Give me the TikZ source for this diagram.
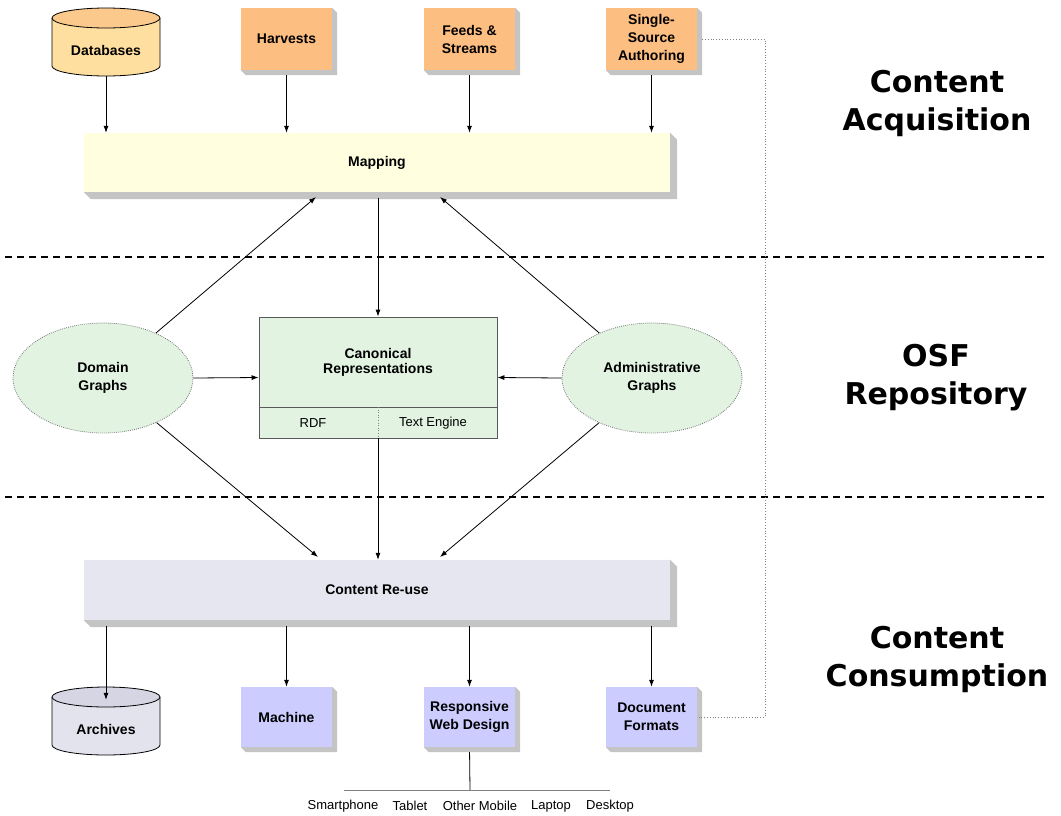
\documentclass[tikz,border=0pt]{standalone}
\usepackage{fontspec}
\setmainfont{Liberation Sans}
\newfontfamily\headfont{DejaVu Sans}
\usetikzlibrary{shapes.geometric,arrows.meta,backgrounds,calc}
\definecolor{orangebox}{HTML}{FDBE82}
\definecolor{dbbody}{HTML}{FFDFA0}
\definecolor{dbtop}{HTML}{FCC98D}
\definecolor{mapfill}{HTML}{FFFFE0}
\definecolor{greenfill}{HTML}{E2F3E2}
\definecolor{reusefill}{HTML}{E6E6F0}
\definecolor{purplebox}{HTML}{CCCCFF}
\definecolor{arcbody}{HTML}{E3E3EE}
\definecolor{arctop}{HTML}{D5D5E4}
\definecolor{shadowc}{HTML}{C4C4C4}
\newcommand\extrude[2]{\fill[shadowc] (#1.south west) -- ++(#2,#2) -| ($(#1.north east)+(#2,#2)$) -- (#1.north east) -- cycle;}
\begin{document}
\begin{tikzpicture}[x=1pt,y=-1pt,
  box/.style={rectangle, inner sep=2pt, align=center, font=\bfseries\fontsize{14}{18}\selectfont, text=black},
  topbox/.style={box, fill=orangebox, minimum width=91pt, minimum height=62pt},
  botbox/.style={box, fill=purplebox, minimum width=91pt, minimum height=60pt},
  widebox/.style={box, minimum width=586pt, minimum height=59pt},
  graphnode/.style={box, ellipse, draw=gray!90!black, line width=0.8pt, dash pattern=on 0.8pt off 1.2pt, fill=greenfill, minimum width=180pt, minimum height=110pt},
  cylarea/.style={rectangle, minimum width=108pt, minimum height=68pt, inner sep=0pt},
  txt/.style={box},
  small/.style={font=\fontsize{13}{15}\selectfont, inner sep=1pt},
  arr/.style={-{Latex[length=7pt,width=5pt]}, line width=0.8pt},
  plainline/.style={line width=0.8pt},
  sep/.style={line width=2pt, dash pattern=on 7pt off 5pt},
  dotconn/.style={line width=0.8pt, gray, dotted},
  head/.style={font=\headfont\bfseries\fontsize{30}{38}\selectfont, align=center}
]
\useasboundingbox (0,0) rectangle (1061,815);

% separators
\draw[sep] (5,257) -- (1045,257);
\draw[sep] (5,497) -- (1045,497);

% ---- top row
\node[cylarea] (db) at (106,42) {};
\fill[dbbody] (52,18) -- (52,66) arc[start angle=180,end angle=360,x radius=54pt,y radius=10pt] -- (160,18) -- cycle;
\draw[plainline] (52,18) -- (52,66) arc[start angle=180,end angle=360,x radius=54pt,y radius=10pt] -- (160,18);
\draw[plainline, fill=dbtop] (106,18) ellipse[x radius=54pt, y radius=10pt];
\node[txt] (dbt) at (106,50) {Databases};

\node[topbox] (harv) at (286.5,39) {Harvests};
\node[topbox] (feeds) at (469.5,39) {Feeds \&\\Streams};
\node[topbox] (ssa) at (651.5,39) {Single-\\Source\\Authoring};

\node[widebox, fill=mapfill] (map) at (377,162.5) {Mapping};

% ---- middle
\node[rectangle, draw=gray!70!black, line width=0.8pt, fill=greenfill, minimum width=238pt, minimum height=121pt] (canon) at (378,377.5) {};
\node[txt, font=\bfseries\fontsize{14}{15}\selectfont] (canont) at (378,362) {Canonical\\Representations};
\draw[gray!70!black, line width=0.8pt] (259,407) -- (497,407);
\draw[gray, dotted, line width=0.6pt] (378,407) -- (378,438);
\node[small] (rdf) at (313,423) {RDF};
\node[small] (teng) at (433,423) {Text Engine};

\node[graphnode] (dom) at (103,378) {Domain\\Graphs};
\node[graphnode] (adm) at (652,378) {Administrative\\Graphs};

% ---- bottom
\node[widebox, fill=reusefill, minimum height=60pt] (reuse) at (377,590) {Content Re-use};

\node[cylarea] (arcn) at (106,721) {};
\fill[arcbody] (52,697) -- (52,745) arc[start angle=180,end angle=360,x radius=54pt,y radius=10pt] -- (160,697) -- cycle;
\draw[plainline] (52,697) -- (52,745) arc[start angle=180,end angle=360,x radius=54pt,y radius=10pt] -- (160,697);
\draw[plainline, fill=arctop] (106,697) ellipse[x radius=54pt, y radius=10pt];
\node[txt] (arct) at (106,729) {Archives};

\node[botbox] (mach) at (286.5,717) {Machine};
\node[botbox] (rwd) at (469.5,717) {Responsive\\Web Design};
\node[botbox] (docf) at (651.5,717) {Document\\Formats};

\node[small] (d1) at (343,806) {Smartphone};
\node[small] (d2) at (410,806) {Tablet};
\node[small] (d3) at (480,806) {Other Mobile};
\node[small] (d4) at (551,806) {Laptop};
\node[small] (d5) at (610,806) {Desktop};
\coordinate (devL) at (344,790);
\coordinate (devR) at (610,790);
\coordinate (devM) at (470,790);

% headings
\node[head] (h1) at (937,103) {Content\\Acquisition};
\node[head] (h2) at (936,378) {OSF\\Repository};
\node[head] (h3) at (937,659) {Content\\Consumption};

% shadows
\begin{scope}[on background layer]
\extrude{harv}{5}
\extrude{feeds}{5}
\extrude{ssa}{5}
\extrude{map}{7}
\extrude{reuse}{7}
\extrude{mach}{5}
\extrude{rwd}{5}
\extrude{docf}{5}
\end{scope}

% connectors
\coordinate (mapL) at (316,197);
\coordinate (mapR) at (440,197);
\coordinate (reuseL) at (318,557);
\coordinate (reuseR) at (440,557);
\coordinate (dotx) at (765,0);

\draw[arr] (db.south) -- (db.south |- map.north);
\draw[arr, shorten <=5pt] (harv.south) -- (harv.south |- map.north);
\draw[arr, shorten <=5pt] (feeds.south) -- (feeds.south |- map.north);
\draw[arr, shorten <=5pt] (ssa.south) -- (ssa.south |- map.north);

\draw[arr, shorten <=6pt] (map.south -| canon.north) -- (canon.north);
\draw[arr] (dom) -- (mapL);
\draw[arr] (adm) -- (mapR);
\draw[arr] (dom.east) -- (canon.west);
\draw[arr] (adm.west) -- (canon.east);
\draw[arr] (dom) -- (reuseL);
\draw[arr] (canon.south) -- (canon.south |- reuse.north);
\draw[arr] (adm) -- (reuseR);

\draw[arr, shorten <=6pt] (reuse.south -| arcn) -- ($(arcn.north)+(0,13)$);
\draw[arr, shorten <=6pt] (reuse.south -| mach) -- (mach.north);
\draw[arr, shorten <=6pt] (reuse.south -| rwd) -- (rwd.north);
\draw[arr, shorten <=6pt] (reuse.south -| docf) -- (docf.north);

\draw[plainline, shorten <=5pt] (rwd.south) -- (devM);
\draw[gray, line width=0.8pt] (devL) -- (devR);

\draw[dotconn, shorten <=5pt] (ssa.east) -- (ssa.east -| dotx) -- (docf.east -| dotx) -- (docf.east);
\end{tikzpicture}
\end{document}
